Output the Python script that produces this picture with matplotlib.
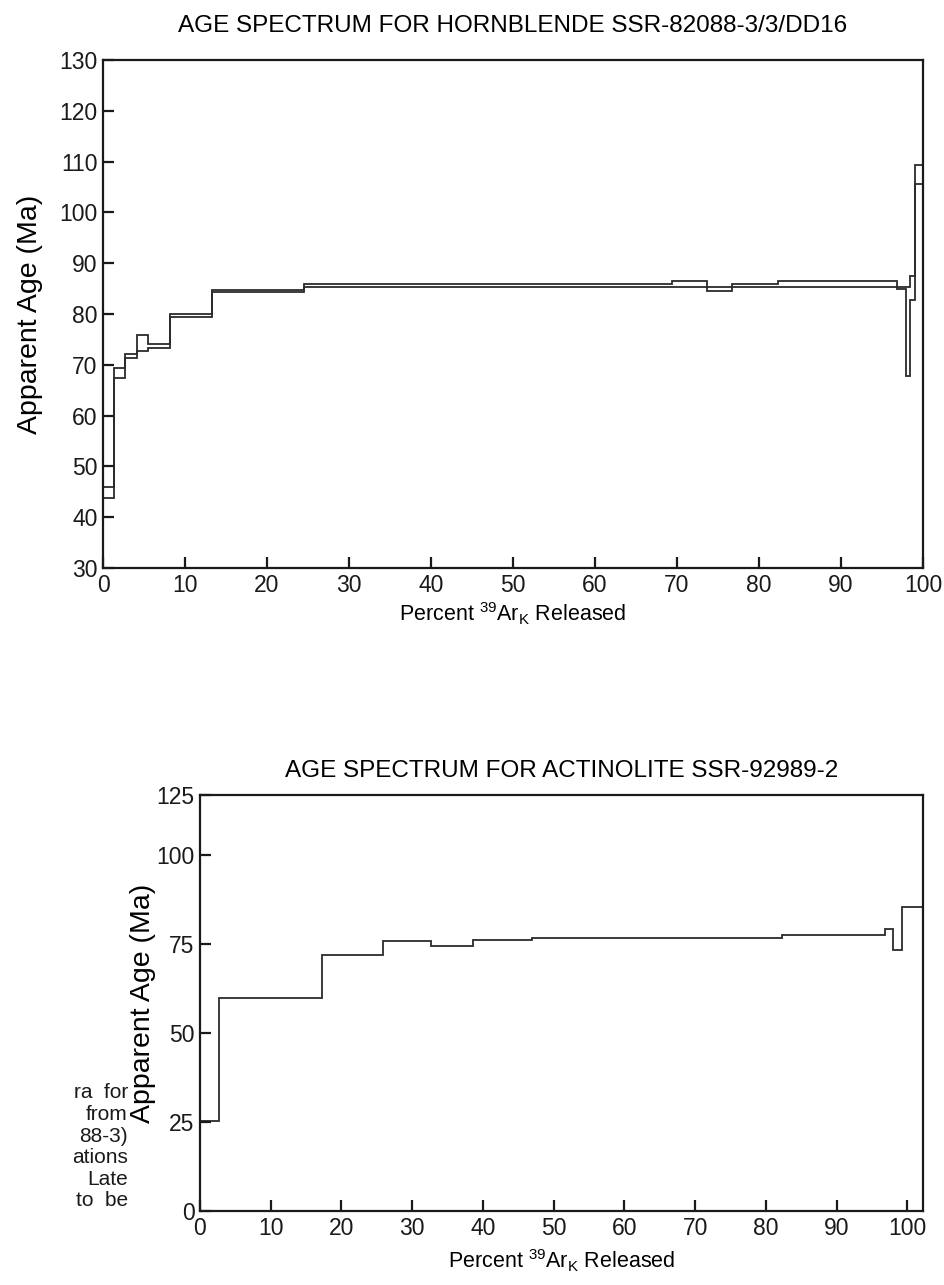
import matplotlib
matplotlib.use("Agg")
import matplotlib.pyplot as plt

plt.rcParams['font.family'] = ['Liberation Sans', 'DejaVu Sans']
plt.rcParams['mathtext.fontset'] = 'custom'
plt.rcParams['mathtext.rm'] = 'Liberation Sans'
plt.rcParams['mathtext.it'] = 'Liberation Sans'
plt.rcParams['mathtext.bf'] = 'Liberation Sans'

# ---------------- data: hornblende (upper / lower 2-sigma envelope) ----------------
hb_edges = [0, 1.4, 2.7, 4.1, 5.5, 8.2, 13.3, 24.5, 69.4, 73.6, 76.7, 82.3,
            96.8, 97.9, 98.4, 99.0, 100]
hb_upper = [46.0, 69.4, 72.1, 75.9, 74.1, 80.0, 84.7, 85.9, 86.5, 85.3, 85.9,
            86.4, 85.3, 85.3, 87.5, 109.3]
hb_lower = [43.8, 67.4, 71.3, 72.7, 73.3, 79.4, 84.3, 85.3, 85.3, 84.5, 85.3,
            85.3, 84.9, 67.8, 82.8, 105.6]
hb_title = "AGE SPECTRUM FOR HORNBLENDE SSR-82088-3/3/DD16"
hb_yticks = [30, 40, 50, 60, 70, 80, 90, 100, 110, 120, 130]

# ---------------- data: actinolite ----------------
ac_edges = [0, 2.7, 17.2, 25.8, 32.6, 38.6, 47.0, 82.2, 96.8, 98.0, 99.3, 102.2]
ac_ages = [25.3, 60.0, 72.0, 75.9, 74.5, 76.2, 76.8, 77.5, 79.2, 73.4, 85.6]
ac_title = "AGE SPECTRUM FOR ACTINOLITE SSR-92989-2"
ac_ytop = 117.0
ac_yticks = [0, 25, 50, 75, 100, ac_ytop]
ac_yticklabels = ['0', '25', '50', '75', '100', '125']

xticks = [0, 10, 20, 30, 40, 50, 60, 70, 80, 90, 100]

caption_lines = ["ra  for", "from", "88-3)", "ations", "Late", "to  be"]

LC = '#2b2b2b'
TICK_FS = 16.5
TITLE_FS = 17.5
YLAB_FS = 20.5
XLAB_FS = 15.5
xlabel = r"Percent $^{39}$Ar$_{\mathrm{K}}$ Released"

fig = plt.figure(figsize=(9.44, 12.85), dpi=100)


def style(ax):
    for s in ax.spines.values():
        s.set_linewidth(1.6)
        s.set_color('#1a1a1a')
    ax.tick_params(direction='in', length=8, width=1.6, labelsize=TICK_FS,
                   colors='#1a1a1a', top=False, right=False, pad=4)


# top chart
ax1 = fig.add_axes([103 / 944, 1 - 568 / 1285, 820 / 944, 508 / 1285])
ax1.stairs(hb_upper, hb_edges, baseline=None, color=LC, lw=1.3)
ax1.stairs(hb_lower, hb_edges, baseline=None, color=LC, lw=1.3)
ax1.set_xlim(0, 100)
ax1.set_ylim(30, 130)
ax1.set_xticks(xticks)
ax1.set_yticks(hb_yticks)
style(ax1)
ax1.set_title(hb_title, fontsize=TITLE_FS, pad=20)
ax1.set_ylabel("Apparent Age (Ma)", fontsize=YLAB_FS, labelpad=12)
ax1.set_xlabel(xlabel, fontsize=XLAB_FS, labelpad=3)

# bottom chart
ax2 = fig.add_axes([200 / 944, 1 - 1211 / 1285, 723 / 944, 416 / 1285])
ax2.stairs(ac_ages, ac_edges, baseline=None, color=LC, lw=1.3)
ax2.set_xlim(0, ac_edges[-1])
ax2.set_ylim(0, ac_ytop)
ax2.set_xticks(xticks)
ax2.set_yticks(ac_yticks)
ax2.set_yticklabels(ac_yticklabels)
style(ax2)
ax2.set_title(ac_title, fontsize=TITLE_FS, pad=13)
ax2.set_ylabel("Apparent Age (Ma)", fontsize=YLAB_FS, labelpad=0)
ax2.set_xlabel(xlabel, fontsize=XLAB_FS, labelpad=6)

# cut-off caption fragment on the left
y0 = 1093
for i, line in enumerate(caption_lines):
    fig.text(128 / 944, 1 - (y0 + i * 21.6) / 1285, line, ha='right',
             va='center', fontsize=15, color='#1a1a1a')

fig.savefig("out.png", dpi=100)
